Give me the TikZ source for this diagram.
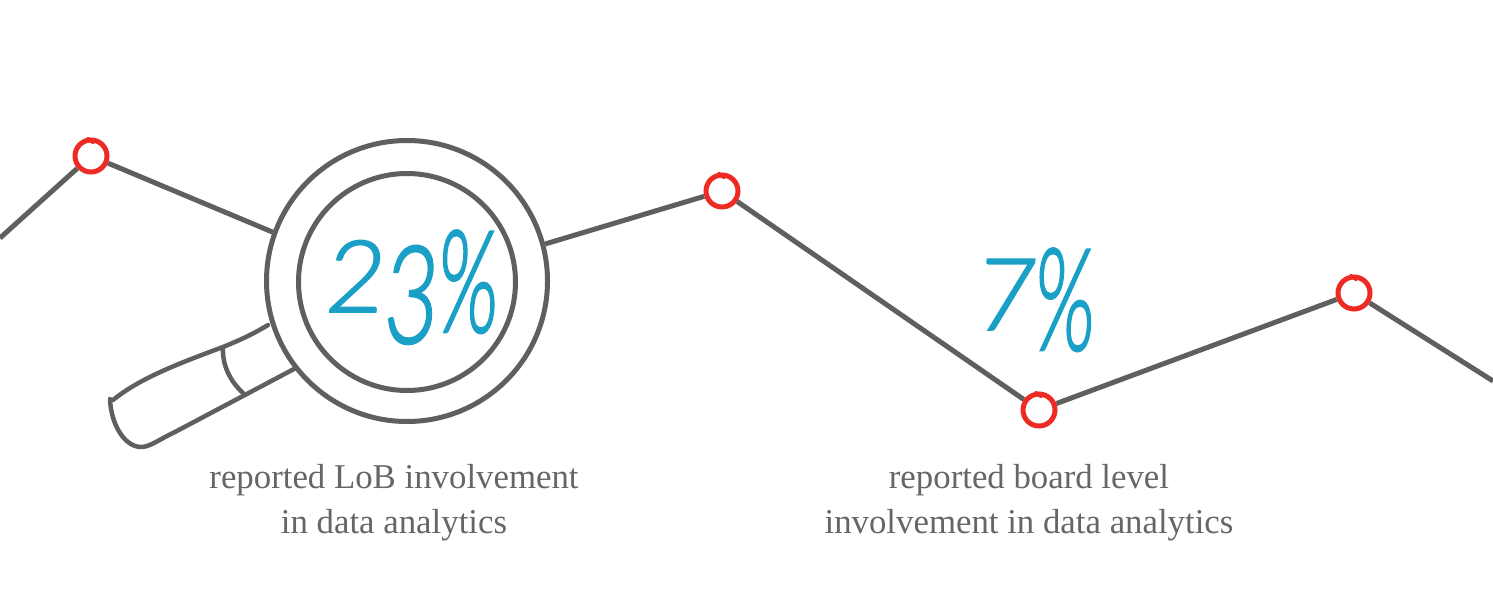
\documentclass[tikz,border=0pt]{standalone}
\usepackage{fontspec}
\setmainfont{Liberation Serif}
\newfontfamily\handfont[FakeSlant=0.1,FakeBold=1.8]{Lato Light}
\definecolor{linegray}{HTML}{5F5F5F}
\definecolor{textgray}{HTML}{666666}
\definecolor{dotred}{HTML}{EE2A24}
\definecolor{handblue}{HTML}{1A9FC6}
\newcommand{\lowthree}{\raisebox{-31pt}{\scalebox{0.92}[1.36]{3}}}
\newcommand{\tallpct}{\raisebox{-20pt}{\scalebox{0.78}[1.42]{\%}}}
\tikzset{
  chart/.style={draw=linegray,line width=5pt},
  dot/.style={circle,draw=dotred,line width=5pt,fill=white,minimum size=32pt,inner sep=0pt},
  tick/.style={draw=dotred,line width=4pt,line cap=round},
  lens/.style={circle,draw=linegray,line width=5pt,inner sep=0pt,fill=white},
  hand/.style={draw=linegray,line width=4.5pt,line cap=round,line join=round},
  caption/.style={text=textgray,font=\fontsize{34.8}{45}\selectfont,align=center},
  figure/.style={text=handblue,inner sep=0pt,anchor=base west,font=\handfont\fontsize{100}{100}\selectfont}
}
\begin{document}
\begin{tikzpicture}[x=1pt,y=-1pt]
\useasboundingbox (0,0) rectangle (1493,597);
\coordinate (left) at (0,238);
\coordinate (right) at (1493,381);
\node[dot] (p1) at (91,156) {};
\node[dot] (p2) at (722,191) {};
\node[dot] (p3) at (1039,410) {};
\node[dot] (p4) at (1354,293) {};
\node[lens,minimum size=281pt] (outer) at (407,281) {};
\node[lens,minimum size=217pt] (inner) at (407,282) {};
\draw[chart] (left) -- (p1);
\draw[chart] (p1) -- (outer.160);
\draw[chart] (outer.15) -- (p2);
\draw[chart] (p2) -- (p3);
\draw[chart] (p3) -- (p4);
\draw[chart] (p4) -- (right);
\draw[tick] (88,139) -- (93,142);
\draw[tick] (719,174) -- (724,177);
\draw[tick] (1036,393) -- (1041,396);
\draw[tick] (1351,276) -- (1356,279);
% handle
\draw[hand] (268,325) .. controls (250,336) and (235,342) .. (223,347)
  .. controls (180,363) and (140,378) .. (113,400);
\draw[hand] (110,399) .. controls (111,425) and (125,447) .. (141,447)
  .. controls (150,447) and (158,440) .. (175,432) -- (294,369);
\draw[hand] (223,347) .. controls (222,365) and (230,381) .. (243,393);
% figures
\node[figure] (n23) at (324,312) {2\lowthree\tallpct};
\node[figure] (n7) at (974,330) {7\tallpct};
\node[caption] (c1) at (394,503) {reported LoB involvement\\in data analytics};
\node[caption] (c2) at (1029,503) {reported board level\\involvement in data analytics};
\end{tikzpicture}
\end{document}
